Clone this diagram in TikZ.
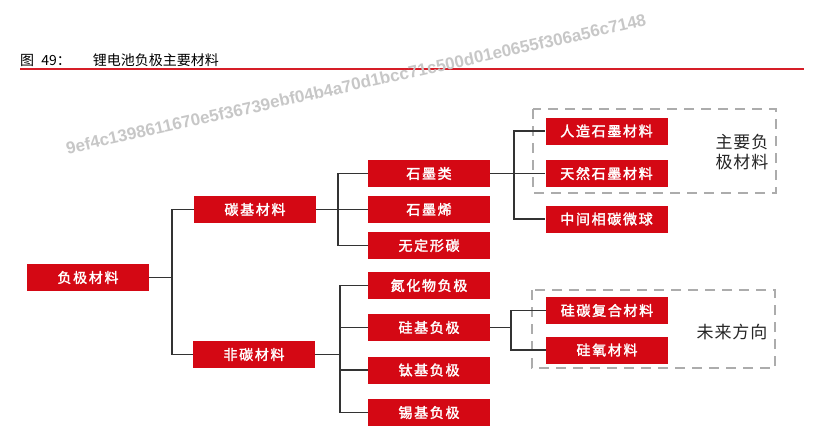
\documentclass[tikz,border=0pt]{standalone}
\usepackage{fontspec}
\usepackage{tikz}
\newfontfamily\cjk{Noto Sans CJK SC}
\newfontfamily\cjkb[FakeBold=2, LetterSpace=12]{Noto Sans CJK SC}
\newfontfamily\cjkn[LetterSpace=5]{Noto Sans CJK SC}
\newfontfamily\wmfont{Liberation Sans}
\definecolor{boxred}{RGB}{212,8,20}
\definecolor{dashgray}{RGB}{172,172,172}
\definecolor{linered}{RGB}{214,30,40}
\tikzset{
  box/.style={fill=boxred, text=white, minimum width=122pt, minimum height=27pt,
    inner sep=0pt, font=\cjkb\fontsize{14}{16}\selectfont},
  link/.style={draw=black!80, line width=1.1pt},
  dbox/.style={draw=dashgray, line width=2.4pt, dash pattern=on 10pt off 7pt},
  note/.style={text=black!85, font=\cjkn\fontsize{17}{20}\selectfont, align=center}
}

\begin{document}
\begin{tikzpicture}[x=1pt,y=-1pt]
            \useasboundingbox (0,0) rectangle (818,442);
            % title and rule
            \node[anchor=west, inner sep=0pt, font=\cjk\fontsize{14}{16}\selectfont] (title) at (20,60) {图\ \hspace{4pt}49：\hspace{22pt}锂电池负极主要材料};
            \draw[linered, line width=1.2pt] (20,69) -- (804,69);
            % watermark
            \node[text=black!22, rotate=12.5, font=\wmfont\bfseries\fontsize{17}{19}\selectfont] (wm) at (356,84) {9ef4c1398611670e5f36739ebf04b4a70d1bcc71c500d01e0655f306a56c7148};
            % dashed groups
            \draw[dbox] (533,109) rectangle (776,193);
            \draw[dbox] (532,290) rectangle (775,368);
            \node[note] (main) at (742,152.5) {主要负\\极材料};
            \node[note] (future) at (732,332) {未来方向};
            % boxes
            \node[box] (fj) at (88,277.5) {负极材料};
            \node[box] (tj) at (255,209.5) {碳基材料};
            \node[box] (ft) at (254,354.5) {非碳材料};
            \node[box] (smL) at (429,173.5) {石墨类};
            \node[box] (smX) at (429,209.5) {石墨烯};
            \node[box] (wd) at (429,245.5) {无定形碳};
            \node[box] (dh) at (429,285.5) {氮化物负极};
            \node[box] (gj) at (429,327.5) {硅基负极};
            \node[box] (tij) at (429,370) {钛基负极};
            \node[box] (xj) at (429,412.5) {锡基负极};
            \node[box] (rz) at (606.5,131) {人造石墨材料};
            \node[box] (tr) at (606.5,173.5) {天然石墨材料};
            \node[box] (zj) at (606.5,219) {中间相碳微球};
            \node[box] (gt) at (607,310.5) {硅碳复合材料};
            \node[box] (gy) at (607,350) {硅氧材料};
            % bus points
            \coordinate (b1) at (172,277.5);
            \coordinate (b2) at (338,209.5);
            \coordinate (b3) at (340,354.5);
            \coordinate (b4) at (514,173.5);
            \coordinate (b5) at (511,327.5);
            % links
            \draw[link] (fj.east) -- (b1);
            \draw[link] (b1) |- (tj.west);
            \draw[link] (b1) |- (ft.west);
            \draw[link] (tj.east) -- (b2);
            \draw[link] (b2) |- (smL.west);
            \draw[link] (b2) |- (smX.west);
            \draw[link] (b2) |- (wd.west);
            \draw[link] (ft.east) -- (b3);
            \draw[link] (b3) |- (dh.west);
            \draw[link] (b3) |- (gj.west);
            \draw[link] (b3) |- (tij.west);
            \draw[link] (b3) |- (xj.west);
            \draw[link] (smL.east) -- (b4);
            \draw[link] (b4) |- (rz.west);
            \draw[link] (b4) |- (tr.west);
            \draw[link] (b4) |- (zj.west);
            \draw[link] (gj.east) -- (b5);
            \draw[link] (b5) |- (gt.west);
            \draw[link] (b5) |- (gy.west);
        \end{tikzpicture}
\end{document}
